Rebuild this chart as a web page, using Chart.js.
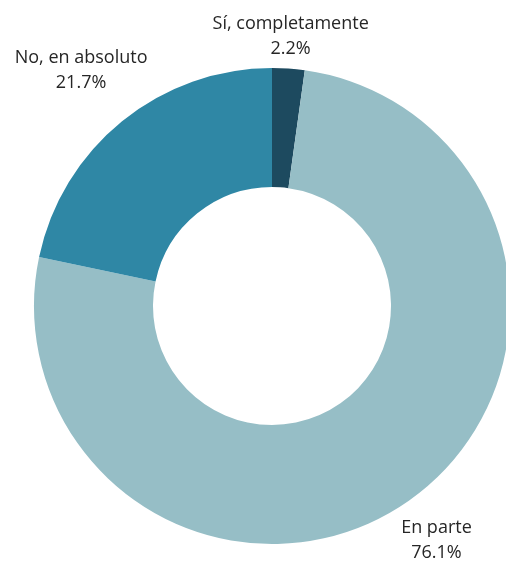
<!DOCTYPE html>
<html lang="es">
<head>
<meta charset="utf-8">
<title>Doughnut</title>
<script src="https://cdn.jsdelivr.net/npm/chart.js@4/dist/chart.umd.min.js"></script>
<style>
  html, body { margin: 0; padding: 0; background: #fff; overflow: hidden; }
  body { width: 506px; height: 564px; position: relative; }
  .wrap { position: absolute; left: 0; top: 0; width: 544px; height: 612px; }
</style>
</head>
<body>
<div class="wrap"><canvas id="donut"></canvas></div>
<script>
// Answers, in clockwise order from 12 o'clock
const categories = ['Sí, completamente', 'En parte', 'No, en absoluto'];
const shares = [2.2, 76.1, 21.7];
const sliceColors = ['#1d4a5f', '#96bec6', '#2f87a5'];

// how far past the ring each label block is centred
const labelGap = [32, 48, 65];

// Category + percentage written just outside each slice
const outerLabels = {
    id: 'outerLabels',
    afterDatasetsDraw(chart) {
        const c = chart.ctx;
        const meta = chart.getDatasetMeta(0);
        const lineH = 25;
        c.save();
        c.font = '18px "Open Sans", sans-serif';
        c.fillStyle = '#262626';
        c.textAlign = 'center';
        c.textBaseline = 'middle';
        meta.data.forEach((arc, i) => {
            const mid = (arc.startAngle + arc.endAngle) / 2;
            const r = arc.outerRadius + labelGap[i];
            const cx = arc.x + r * Math.cos(mid);
            const cy = arc.y + r * Math.sin(mid);
            const lines = [categories[i], shares[i].toFixed(1) + '%'];
            lines.forEach((t, k) => {
                c.fillText(t, cx, cy + (k - (lines.length - 1) / 2) * lineH);
            });
        });
        c.restore();
    }
};

new Chart(document.getElementById('donut'), {
    type: 'doughnut',
    data: {
        labels: categories,
        datasets: [{
            data: shares,
            backgroundColor: sliceColors,
            borderWidth: 0
        }]
    },
    options: {
        responsive: true,
        maintainAspectRatio: false,
        animation: false,
        cutout: '50%',
        layout: { padding: { top: 68, bottom: 68, left: 34, right: 34 } },
        plugins: {
            legend: { display: false },
            tooltip: { enabled: false }
        }
    },
    plugins: [outerLabels]
});
</script>
</body>
</html>
